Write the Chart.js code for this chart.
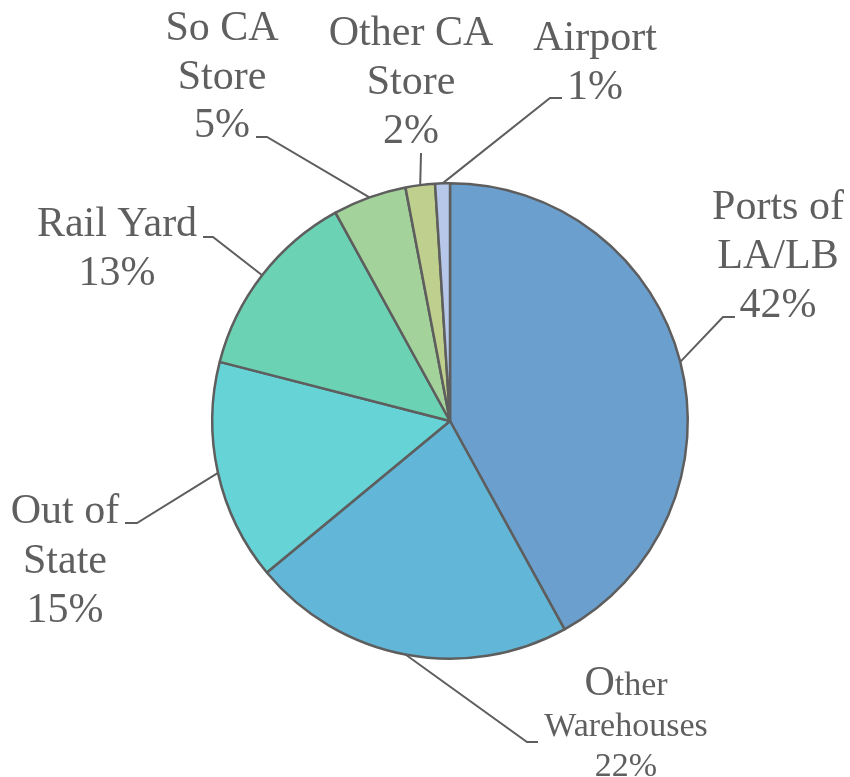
<!DOCTYPE html>
<html>
<head>
<meta charset="utf-8">
<script src="https://cdn.jsdelivr.net/npm/chart.js@4/dist/chart.umd.min.js"></script>
<style>
  html, body { margin: 0; padding: 0; background: #ffffff; }
  canvas { display: block; }
</style>
</head>
<body>
<canvas id="chart-pie" width="850" height="777"></canvas>
<script>
// chart data
const categories = [['Ports of', 'LA/LB'], ['Other', 'Warehouses'], ['Out of', 'State'], ['Rail Yard'], ['So CA', 'Store'], ['Other CA', 'Store'], ['Airport']];
const shares = [42, 22, 15, 13, 5, 2, 1];
const sliceColors = ['#6a9fce', '#62b6d7', '#66d3d6', '#6bd2b3', '#a3d29b', '#bfcf8e', '#b6c7ea'];

// where each label sits (centre x, first baseline), plus leader elbow/end
const labelLayout = [
    { x: 778, y: 219, lh: 49, elbow: [723, 317], end: [735, 317] },
    { x: 626, y: 695, lh: 40.5, elbow: [527, 742], end: [538, 742], small: true },
    { x: 65, y: 523, lh: 49.5, elbow: [137, 523], end: [125, 523] },
    { x: 117, y: 236, lh: 49, elbow: [213, 237], end: [203, 237] },
    { x: 222, y: 40, lh: 48.5, elbow: [267, 137], end: [256, 137] },
    { x: 411, y: 45, lh: 49, elbow: [421, 153], end: [421, 153] },
    { x: 595, y: 50, lh: 49, elbow: [550, 98], end: [562, 98] }
];

const textColor = '#5f5f5f';
const fontFamily = '"Liberation Serif", "Times New Roman", serif';

const pieLabels = {
    id: 'pieLabels',
    afterDatasetsDraw(chart) {
        const ctx = chart.ctx;
        const meta = chart.getDatasetMeta(0);
        meta.data.forEach((arc, i) => {
            const p = arc.getProps(['x', 'y', 'startAngle', 'endAngle', 'outerRadius'], true);
            const mid = (p.startAngle + p.endAngle) / 2;
            const ex = p.x + Math.cos(mid) * p.outerRadius;
            const ey = p.y + Math.sin(mid) * p.outerRadius;
            const lay = labelLayout[i];

            // leader line
            ctx.save();
            ctx.strokeStyle = '#5e5e5e';
            ctx.lineWidth = 2;
            ctx.beginPath();
            ctx.moveTo(ex, ey);
            ctx.lineTo(lay.elbow[0], lay.elbow[1]);
            ctx.lineTo(lay.end[0], lay.end[1]);
            ctx.stroke();

            // text
            ctx.fillStyle = textColor;
            ctx.textBaseline = 'alphabetic';
            const lines = chart.data.labels[i].concat([chart.data.datasets[0].data[i] + '%']);
            lines.forEach((line, k) => {
                const y = lay.y + k * lay.lh;
                if (lay.small && k === 0) {
                    // big first letter, smaller rest
                    const big = '42px ' + fontFamily;
                    const sm = '34px ' + fontFamily;
                    ctx.font = big;
                    const w1 = ctx.measureText(line[0]).width;
                    ctx.font = sm;
                    const w2 = ctx.measureText(line.slice(1)).width;
                    const x0 = lay.x - (w1 + w2) / 2;
                    ctx.textAlign = 'left';
                    ctx.font = big;
                    ctx.fillText(line[0], x0, y);
                    ctx.font = sm;
                    ctx.fillText(line.slice(1), x0 + w1, y);
                } else {
                    ctx.textAlign = 'center';
                    ctx.font = (lay.small ? '34px ' : '42px ') + fontFamily;
                    ctx.fillText(line, lay.x, y);
                }
            });
            ctx.restore();
        });
    }
};

new Chart(document.getElementById('chart-pie').getContext('2d'), {
    type: 'pie',
    data: {
        labels: categories,
        datasets: [{
            data: shares,
            backgroundColor: sliceColors,
            borderColor: '#5e5e5e',
            borderWidth: 2.5
        }]
    },
    options: {
        responsive: false,
        animation: false,
        layout: {
            padding: { left: 211, right: 161, top: 182, bottom: 117 }
        },
        plugins: {
            legend: { display: false },
            tooltip: { enabled: false }
        }
    },
    plugins: [pieLabels]
});
</script>
</body>
</html>
